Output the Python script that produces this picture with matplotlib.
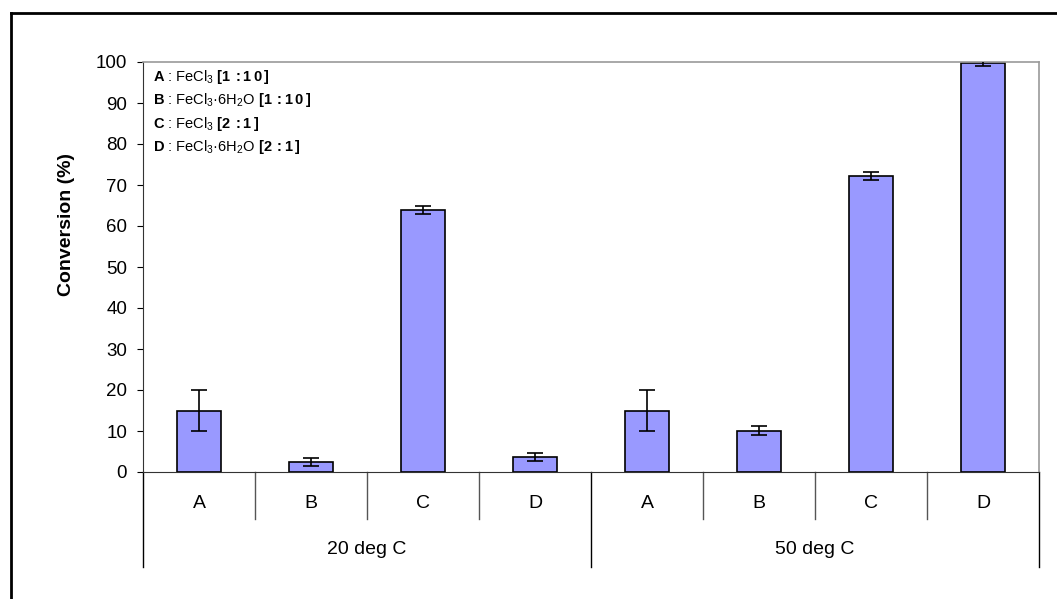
import numpy as np
import matplotlib
matplotlib.use("Agg")
import matplotlib.pyplot as plt
from matplotlib.lines import Line2D
import matplotlib.transforms as mtransforms

plt.rcParams['font.family'] = ['Liberation Sans', 'DejaVu Sans']
plt.rcParams['mathtext.fontset'] = 'custom'
plt.rcParams['mathtext.rm'] = 'Liberation Sans'
plt.rcParams['mathtext.bf'] = 'Liberation Sans:bold'

categories = ['A', 'B', 'C', 'D', 'A', 'B', 'C', 'D']
groups = ['20 deg C', '50 deg C']
conversion = [15, 2.4, 64, 3.7, 15, 10.1, 72.2, 99.8]
errors = [5, 1.0, 1.0, 1.0, 5, 1.1, 0.9, 0.7]
legend_lines = [
    r"$\mathbf{A}$ : FeCl$_3$ $\mathbf{[1\,{:}1\,0\,]}$",
    r"$\mathbf{B}$ : FeCl$_3$·6H$_2$O $\mathbf{[1\,{:}1\,0\,]}$",
    r"$\mathbf{C}$ : FeCl$_3$ $\mathbf{[2\,{:}1\,]}$",
    r"$\mathbf{D}$ : FeCl$_3$·6H$_2$O $\mathbf{[2\,{:}1\,]}$",
]

fig = plt.figure(figsize=(10.57, 5.99), dpi=100)
ax = fig.add_axes([143/1057, 1 - 472/599, (1039 - 143)/1057, (472 - 62)/599])

x = np.arange(len(categories))
ax.bar(x, conversion, width=0.4, color='#9999FF', edgecolor='black', linewidth=1.2, zorder=2)
ax.errorbar(x, conversion, yerr=errors, fmt='none', ecolor='black', elinewidth=1.2,
            capsize=5.5, capthick=1.2, zorder=3)

ax.set_xlim(-0.5, len(categories) - 0.5)
ax.set_ylim(0, 100)
ax.set_yticks(np.arange(0, 101, 10))
ax.tick_params(axis='y', labelsize=13.5, length=4.5, width=0.8, direction='out', pad=7)
ax.set_xticks([])
ax.set_ylabel('Conversion (%)', fontsize=14, fontweight='bold')
ax.yaxis.set_label_coords((75 - 143) / 896, (472 - 225) / 410)

for side in ['top', 'right']:
    ax.spines[side].set_color('#999999')
    ax.spines[side].set_linewidth(1.2)
ax.spines['left'].set_color('#333333')
ax.spines['bottom'].set_color('#333333')

# category axis with separators
trans = mtransforms.blended_transform_factory(ax.transData, ax.transAxes)
inner = -(519 - 472) / 410
outer = -(567 - 472) / 410
for i in range(len(categories) + 1):
    xe = i - 0.5
    yb = outer if i % 4 == 0 else inner
    ax.add_line(Line2D([xe, xe], [0, yb], transform=trans, color='#555555' if i % 4 else 'black',
                       linewidth=1.0, clip_on=False))
for i, c in enumerate(categories):
    ax.text(i, -(503 - 472) / 410, c, transform=trans, ha='center', va='center', fontsize=14)
for g, name in enumerate(groups):
    ax.text(g * 4 + 1.5, -(549 - 472) / 410, name, transform=trans, ha='center', va='center',
            fontsize=14)

# legend text block
for k, t in enumerate(legend_lines):
    fig.text(153/1057, 1 - (77 + k * 23.3)/599, t, fontsize=10.5, ha='left', va='center')

# outer frame (cut off at the right and bottom)
fig.add_artist(Line2D([11/1057, 11/1057], [0, 1 - 13/599], transform=fig.transFigure,
                      color='black', linewidth=2))
fig.add_artist(Line2D([11/1057, 1], [1 - 13/599, 1 - 13/599], transform=fig.transFigure,
                      color='black', linewidth=2))

fig.savefig('out.png', dpi=100)
